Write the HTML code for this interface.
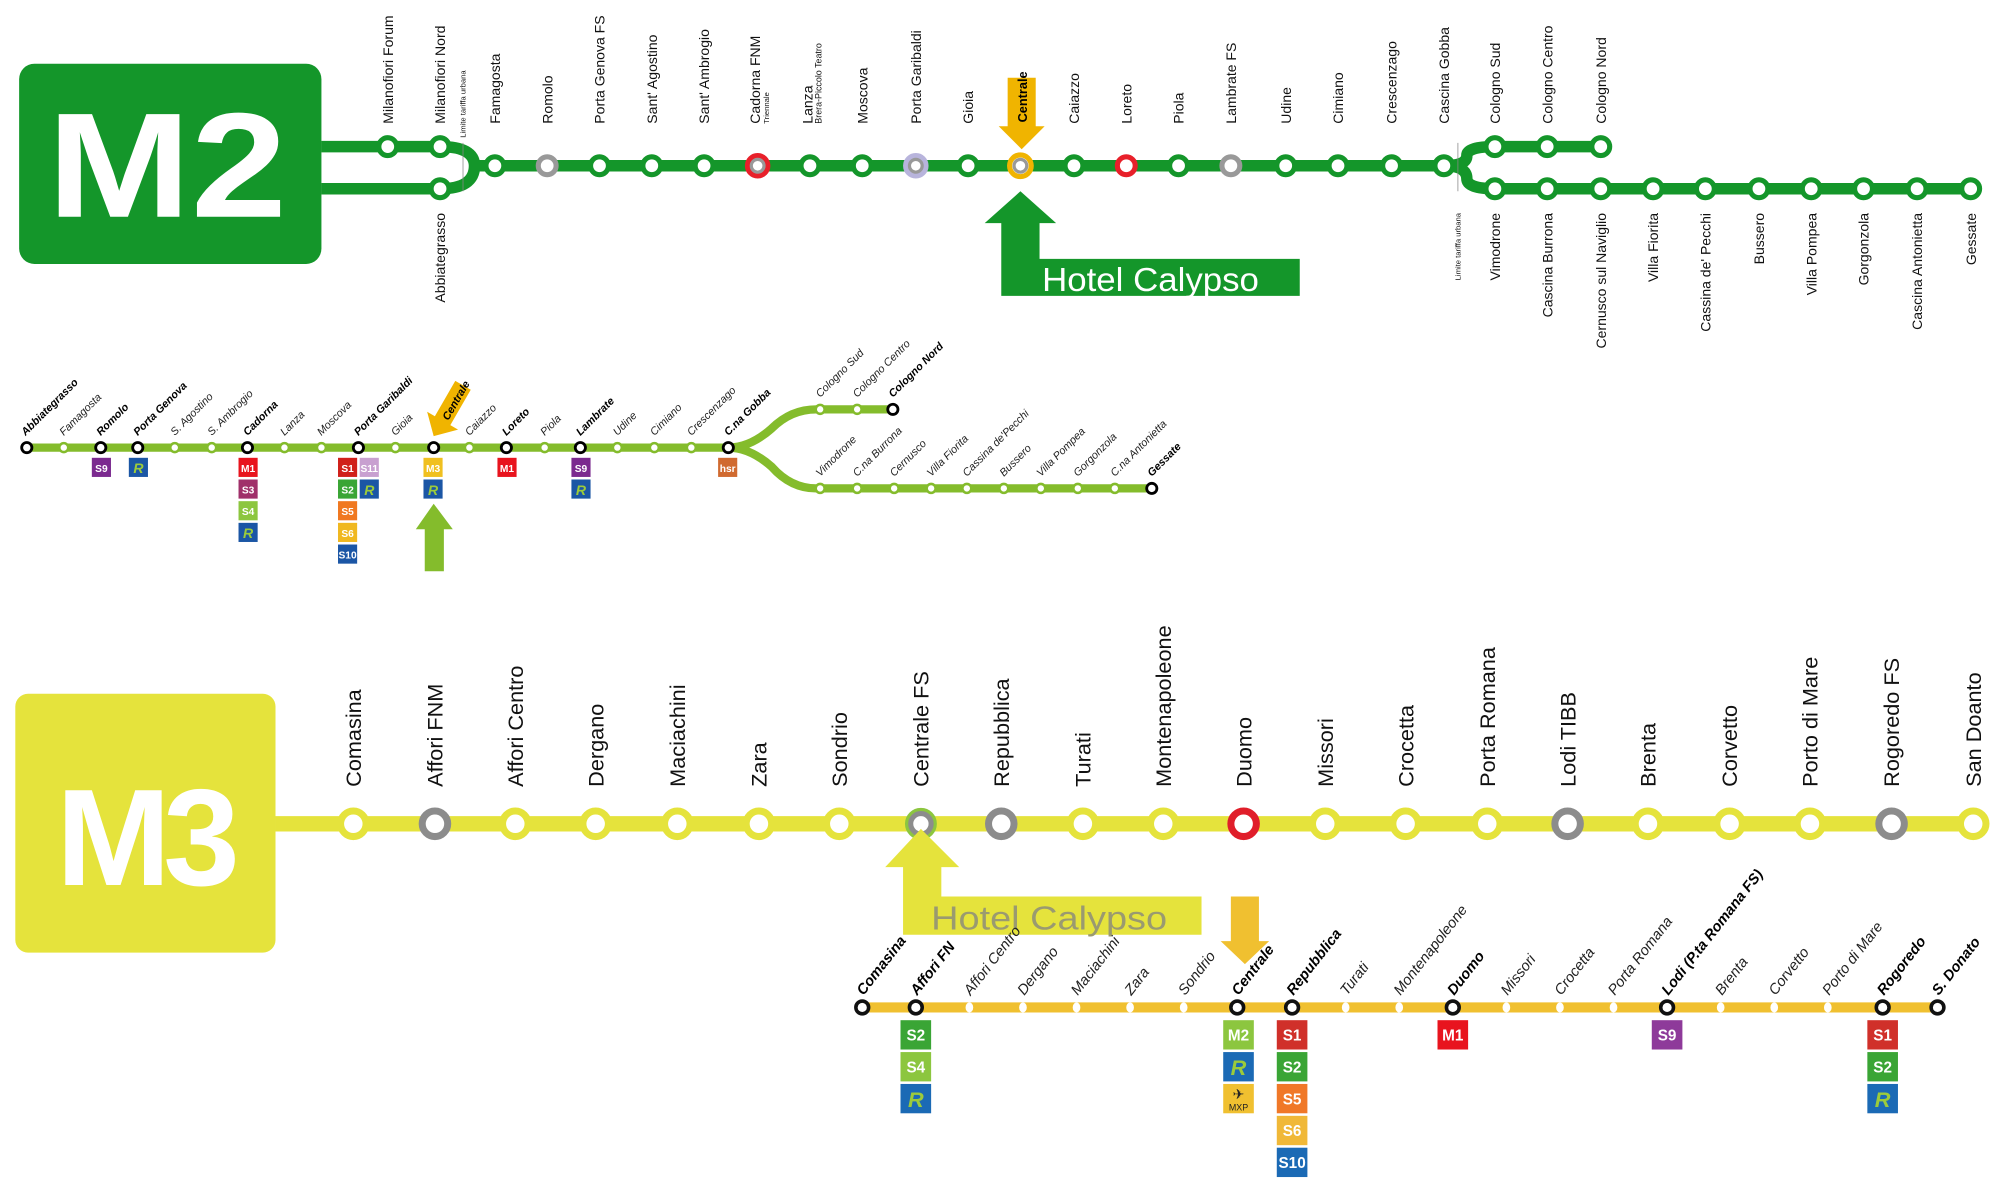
<!DOCTYPE html>
<html><head><meta charset="utf-8"><style>
html,body{margin:0;padding:0;background:#fff;width:2000px;height:1200px;overflow:hidden}
svg{display:block}
text{font-family:"Liberation Sans",Arial,sans-serif}
.t2{font-size:11px;fill:#111}
.s{font-size:8.5px;font-style:italic;fill:#222}
.sb{font-size:8.5px;font-style:italic;font-weight:bold;fill:#000}
.t3{font-size:17px;fill:#111}
.m{font-size:11.5px;font-style:italic;fill:#222}
.mb{font-size:11.5px;font-style:italic;font-weight:bold;fill:#000}
.bd{font-size:8px;font-weight:bold;fill:#fff;text-anchor:middle}
.bd2{font-size:12px;font-weight:bold;fill:#fff;text-anchor:middle}
</style></head><body>
<svg width="2000" height="1200" viewBox="0 0 1568 941" preserveAspectRatio="none" xmlns="http://www.w3.org/2000/svg">
<!-- ================= M2 top ================= -->
<rect x="15" y="50" width="237" height="157" rx="12" fill="#14962a"/>
<text x="37" y="170" font-size="117" font-weight="bold" fill="#fff" textLength="188" lengthAdjust="spacingAndGlyphs">M2</text>
<g stroke="#14962a" stroke-width="9" fill="none">
<line x1="252" y1="115" x2="345" y2="115"/>
<line x1="252" y1="148" x2="345" y2="148"/>
<path d="M345 115 Q372 115 372 130 M345 148 Q372 148 372 130"/>
<line x1="370" y1="130" x2="1132" y2="130"/>
<path d="M1132 130 Q1150 130 1150 122 Q1150 115 1172 115 L1255 115"/>
<path d="M1132 130 Q1150 130 1150 140 Q1150 148 1172 148 L1545 148"/>
</g>
<line x1="363" y1="112" x2="363" y2="150" stroke="#888" stroke-width="0.6"/>
<line x1="1143" y1="112" x2="1143" y2="150" stroke="#888" stroke-width="0.6"/>
<g fill="#fff" stroke="#14962a" stroke-width="4">
<circle cx="304" cy="115" r="7"/><circle cx="345" cy="115" r="7"/><circle cx="345" cy="148" r="7"/>
<circle cx="388" cy="130" r="7"/><circle cx="470" cy="130" r="7"/><circle cx="511" cy="130" r="7"/><circle cx="552" cy="130" r="7"/><circle cx="635" cy="130" r="7"/><circle cx="676" cy="130" r="7"/><circle cx="759" cy="130" r="7"/><circle cx="842" cy="130" r="7"/><circle cx="924" cy="130" r="7"/><circle cx="1008" cy="130" r="7"/><circle cx="1049" cy="130" r="7"/><circle cx="1091" cy="130" r="7"/><circle cx="1132" cy="130" r="7"/>
<circle cx="1172" cy="115" r="7"/><circle cx="1213" cy="115" r="7"/><circle cx="1255" cy="115" r="7"/>
<circle cx="1172" cy="148" r="7"/><circle cx="1213" cy="148" r="7"/><circle cx="1255" cy="148" r="7"/><circle cx="1296" cy="148" r="7"/><circle cx="1337" cy="148" r="7"/><circle cx="1379" cy="148" r="7"/><circle cx="1420" cy="148" r="7"/><circle cx="1461" cy="148" r="7"/><circle cx="1503" cy="148" r="7"/><circle cx="1545" cy="148" r="7"/>
</g>
<g fill="#fff" stroke-width="4">
<circle cx="429" cy="130" r="7" stroke="#999"/>
<circle cx="594" cy="130" r="8" stroke="#e8202a"/><circle cx="594" cy="130" r="5" stroke="#999" stroke-width="2.5"/>
<circle cx="718" cy="130" r="8" stroke="#b8b4dc"/><circle cx="718" cy="130" r="5" stroke="#999" stroke-width="2.5"/>
<circle cx="800" cy="130" r="8.5" stroke="#f0b400"/><circle cx="800" cy="130" r="5" stroke="#999" stroke-width="2.5"/>
<circle cx="883" cy="130" r="7" stroke="#e8202a"/>
<circle cx="965" cy="130" r="7" stroke="#999"/>
</g>
<g class="t2">
<text transform="translate(308,97) rotate(-90)">Milanofiori Forum</text>
<text transform="translate(349,97) rotate(-90)">Milanofiori Nord</text>
<text transform="translate(365,108) rotate(-90)" font-size="6">Limite tariffa urbana</text>
<text transform="translate(392,97) rotate(-90)">Famagosta</text>
<text transform="translate(433,97) rotate(-90)">Romolo</text>
<text transform="translate(474,97) rotate(-90)">Porta Genova FS</text>
<text transform="translate(515,97) rotate(-90)">Sant' Agostino</text>
<text transform="translate(556,97) rotate(-90)">Sant' Ambrogio</text>
<text transform="translate(596,97) rotate(-90)">Cadorna FNM</text>
<text transform="translate(603,97) rotate(-90)" font-size="6">Triennale</text>
<text transform="translate(637,97) rotate(-90)">Lanza</text>
<text transform="translate(644,97) rotate(-90)" font-size="7">Brera-Piccolo Teatro</text>
<text transform="translate(680,97) rotate(-90)">Moscova</text>
<text transform="translate(722,97) rotate(-90)">Porta Garibaldi</text>
<text transform="translate(763,97) rotate(-90)">Gioia</text>
<text transform="translate(846,97) rotate(-90)">Caiazzo</text>
<text transform="translate(887,97) rotate(-90)">Loreto</text>
<text transform="translate(928,97) rotate(-90)">Piola</text>
<text transform="translate(969,97) rotate(-90)">Lambrate FS</text>
<text transform="translate(1012,97) rotate(-90)">Udine</text>
<text transform="translate(1053,97) rotate(-90)">Cimiano</text>
<text transform="translate(1095,97) rotate(-90)">Crescenzago</text>
<text transform="translate(1136,97) rotate(-90)">Cascina Gobba</text>
<text transform="translate(1176,97) rotate(-90)">Cologno Sud</text>
<text transform="translate(1217,97) rotate(-90)">Cologno Centro</text>
<text transform="translate(1259,97) rotate(-90)">Cologno Nord</text>
<g text-anchor="end">
<text transform="translate(349,167) rotate(-90)">Abbiategrasso</text>
<text transform="translate(1145,167) rotate(-90)" font-size="6">Limite tariffa urbana</text>
<text transform="translate(1176,167) rotate(-90)">Vimodrone</text>
<text transform="translate(1217,167) rotate(-90)">Cascina Burrona</text>
<text transform="translate(1259,167) rotate(-90)">Cernusco sul Naviglio</text>
<text transform="translate(1300,167) rotate(-90)">Villa Fiorita</text>
<text transform="translate(1341,167) rotate(-90)">Cassina de' Pecchi</text>
<text transform="translate(1383,167) rotate(-90)">Bussero</text>
<text transform="translate(1424,167) rotate(-90)">Villa Pompea</text>
<text transform="translate(1465,167) rotate(-90)">Gorgonzola</text>
<text transform="translate(1507,167) rotate(-90)">Cascina Antonietta</text>
<text transform="translate(1549,167) rotate(-90)">Gessate</text>
</g>
</g>
<polygon points="790,61 812,61 812,99 819,99 801,117 783,99 790,99" fill="#f0b400"/>
<text transform="translate(805,96) rotate(-90)" font-size="10" font-weight="bold" fill="#000">Centrale</text>
<polygon points="800,150 828,175 815,175 815,203 1019,203 1019,232 785,232 785,175 772,175" fill="#14962a"/>
<text x="817" y="228" font-size="26" fill="#fff" style="font-weight:300" textLength="170" lengthAdjust="spacingAndGlyphs">Hotel Calypso</text>

<!-- ================= M2 small map ================= -->
<g stroke="#84bc2c" stroke-width="6.5" fill="none">
<line x1="21" y1="351" x2="571" y2="351"/>
<path d="M571 351 Q588 351 605 336 Q620 321 640 321 L700 321"/>
<path d="M571 351 Q588 351 605 366 Q620 383 640 383 L903 383"/>
</g>
<g fill="#fff" stroke="#84bc2c" stroke-width="2">
<circle cx="50" cy="351" r="3.5"/><circle cx="137" cy="351" r="3.5"/><circle cx="166" cy="351" r="3.5"/><circle cx="223" cy="351" r="3.5"/><circle cx="252" cy="351" r="3.5"/><circle cx="310" cy="351" r="3.5"/><circle cx="368" cy="351" r="3.5"/><circle cx="427" cy="351" r="3.5"/><circle cx="484" cy="351" r="3.5"/><circle cx="513" cy="351" r="3.5"/><circle cx="542" cy="351" r="3.5"/>
<circle cx="643" cy="321" r="3.5"/><circle cx="672" cy="321" r="3.5"/>
<circle cx="643" cy="383" r="3.5"/><circle cx="672" cy="383" r="3.5"/><circle cx="701" cy="383" r="3.5"/><circle cx="730" cy="383" r="3.5"/><circle cx="758" cy="383" r="3.5"/><circle cx="787" cy="383" r="3.5"/><circle cx="816" cy="383" r="3.5"/><circle cx="845" cy="383" r="3.5"/><circle cx="874" cy="383" r="3.5"/>
</g>
<g fill="#fff" stroke="#000" stroke-width="2.2">
<circle cx="21" cy="351" r="4"/><circle cx="79" cy="351" r="4"/><circle cx="108" cy="351" r="4"/><circle cx="194" cy="351" r="4"/><circle cx="281" cy="351" r="4"/><circle cx="340" cy="351" r="4"/><circle cx="397" cy="351" r="4"/><circle cx="455" cy="351" r="4"/><circle cx="571" cy="351" r="4"/><circle cx="700" cy="321" r="4"/><circle cx="903" cy="383" r="4"/>
</g>
<g>
<text class="sb" transform="translate(20,342) rotate(-45)">Abbiategrasso</text>
<text class="s" transform="translate(50,342) rotate(-45)">Famagosta</text>
<text class="sb" transform="translate(79,342) rotate(-45)">Romolo</text>
<text class="sb" transform="translate(108,342) rotate(-45)">Porta Genova</text>
<text class="s" transform="translate(137,342) rotate(-45)">S. Agostino</text>
<text class="s" transform="translate(166,342) rotate(-45)">S. Ambrogio</text>
<text class="sb" transform="translate(194,342) rotate(-45)">Cadorna</text>
<text class="s" transform="translate(223,342) rotate(-45)">Lanza</text>
<text class="s" transform="translate(252,342) rotate(-45)">Moscova</text>
<text class="sb" transform="translate(281,342) rotate(-45)">Porta Garibaldi</text>
<text class="s" transform="translate(310,342) rotate(-45)">Gioia</text>
<text class="s" transform="translate(368,342) rotate(-45)">Caiazzo</text>
<text class="sb" transform="translate(397,342) rotate(-45)">Loreto</text>
<text class="s" transform="translate(427,342) rotate(-45)">Piola</text>
<text class="sb" transform="translate(455,342) rotate(-45)">Lambrate</text>
<text class="s" transform="translate(484,342) rotate(-45)">Udine</text>
<text class="s" transform="translate(513,342) rotate(-45)">Cimiano</text>
<text class="s" transform="translate(542,342) rotate(-45)">Crescenzago</text>
<text class="sb" transform="translate(571,342) rotate(-45)">C.na Gobba</text>
<text class="s" transform="translate(643,312) rotate(-45)">Cologno Sud</text>
<text class="s" transform="translate(672,312) rotate(-45)">Cologno Centro</text>
<text class="sb" transform="translate(700,312) rotate(-45)">Cologno Nord</text>
<text class="s" transform="translate(643,374) rotate(-45)">Vimodrone</text>
<text class="s" transform="translate(672,374) rotate(-45)">C.na Burrona</text>
<text class="s" transform="translate(701,374) rotate(-45)">Cernusco</text>
<text class="s" transform="translate(730,374) rotate(-45)">Villa Fiorita</text>
<text class="s" transform="translate(758,374) rotate(-45)">Cassina de'Pecchi</text>
<text class="s" transform="translate(787,374) rotate(-45)">Bussero</text>
<text class="s" transform="translate(816,374) rotate(-45)">Villa Pompea</text>
<text class="s" transform="translate(845,374) rotate(-45)">Gorgonzola</text>
<text class="s" transform="translate(874,374) rotate(-45)">C.na Antonietta</text>
<text class="sb" transform="translate(903,374) rotate(-45)">Gessate</text>
</g>
<g transform="rotate(30,340,342)">
<polygon points="333,296 347,296 347,328 354,328 340,342 326,328 333,328" fill="#f0b400"/>
<text transform="translate(344,326) rotate(-90)" font-size="8.5" font-weight="bold" font-style="italic" fill="#000">Centrale</text>
</g>
<g>
<rect x="72" y="359" width="15" height="15" fill="#7b2a8f"/><text class="bd" x="79.5" y="370">S9</text>
<rect x="101" y="359" width="15" height="15" fill="#1b56a5"/><text x="108.5" y="371" font-size="11" font-weight="bold" font-style="italic" fill="#9ccb3b" text-anchor="middle">R</text>
<rect x="187" y="359" width="15" height="15" fill="#e8141e"/><text class="bd" x="194.5" y="370">M1</text>
<rect x="187" y="376" width="15" height="15" fill="#a0306a"/><text class="bd" x="194.5" y="387">S3</text>
<rect x="187" y="393" width="15" height="15" fill="#8cc63f"/><text class="bd" x="194.5" y="404">S4</text>
<rect x="187" y="410" width="15" height="15" fill="#1b56a5"/><text x="194.5" y="422" font-size="11" font-weight="bold" font-style="italic" fill="#9ccb3b" text-anchor="middle">R</text>
<rect x="265" y="359" width="15" height="15" fill="#d0201a"/><text class="bd" x="272.5" y="370">S1</text>
<rect x="265" y="376" width="15" height="15" fill="#3aa535"/><text class="bd" x="272.5" y="387">S2</text>
<rect x="265" y="393" width="15" height="15" fill="#f07820"/><text class="bd" x="272.5" y="404">S5</text>
<rect x="265" y="410" width="15" height="15" fill="#f0b820"/><text class="bd" x="272.5" y="421">S6</text>
<rect x="265" y="427" width="15" height="15" fill="#1b56a5"/><text class="bd" x="272.5" y="438">S10</text>
<rect x="282" y="359" width="15" height="15" fill="#c8a0d0"/><text class="bd" x="289.5" y="370">S11</text>
<rect x="282" y="376" width="15" height="15" fill="#1b56a5"/><text x="289.5" y="388" font-size="11" font-weight="bold" font-style="italic" fill="#9ccb3b" text-anchor="middle">R</text>
<rect x="332" y="359" width="15" height="15" fill="#f0c020"/><text class="bd" x="339.5" y="370">M3</text>
<rect x="332" y="376" width="15" height="15" fill="#1b56a5"/><text x="339.5" y="388" font-size="11" font-weight="bold" font-style="italic" fill="#9ccb3b" text-anchor="middle">R</text>
<rect x="390" y="359" width="15" height="15" fill="#e8141e"/><text class="bd" x="397.5" y="370">M1</text>
<rect x="448" y="359" width="15" height="15" fill="#7b2a8f"/><text class="bd" x="455.5" y="370">S9</text>
<rect x="448" y="376" width="15" height="15" fill="#1b56a5"/><text x="455.5" y="388" font-size="11" font-weight="bold" font-style="italic" fill="#9ccb3b" text-anchor="middle">R</text>
<rect x="563" y="359" width="15" height="15" fill="#d06a30"/><text class="bd" x="570.5" y="370">hsr</text>
</g>
<polygon points="340,395 355,415 348,415 348,448 333,448 333,415 326,415" fill="#84bc2c"/>

<!-- ================= M3 ================= -->
<rect x="12" y="544" width="204" height="203" rx="10" fill="#e5e33c"/>
<text x="113" y="694" font-size="108" font-weight="bold" fill="#fff" text-anchor="middle" style="letter-spacing:-6px">M3</text>
<line x1="216" y1="646" x2="1548" y2="646" stroke="#e5e33c" stroke-width="12"/>
<g fill="#fff" stroke="#e5e33c" stroke-width="5.5">
<circle cx="277" cy="646" r="10"/><circle cx="404" cy="646" r="10"/><circle cx="467" cy="646" r="10"/><circle cx="531" cy="646" r="10"/><circle cx="595" cy="646" r="10"/><circle cx="658" cy="646" r="10"/><circle cx="849" cy="646" r="10"/><circle cx="912" cy="646" r="10"/><circle cx="1039" cy="646" r="10"/><circle cx="1102" cy="646" r="10"/><circle cx="1166" cy="646" r="10"/><circle cx="1292" cy="646" r="10"/><circle cx="1356" cy="646" r="10"/><circle cx="1419" cy="646" r="10"/><circle cx="1547" cy="646" r="10"/>
</g>
<g fill="#fff" stroke-width="5.5">
<circle cx="341" cy="646" r="10" stroke="#8c8c8c"/>
<circle cx="722" cy="646" r="11" stroke="#8cc63f" stroke-width="3"/><circle cx="722" cy="646" r="8" stroke="#8c8c8c" stroke-width="4"/>
<circle cx="785" cy="646" r="10" stroke="#8c8c8c"/>
<circle cx="975" cy="646" r="10" stroke="#e01e2a"/>
<circle cx="1229" cy="646" r="10" stroke="#8c8c8c"/>
<circle cx="1483" cy="646" r="10" stroke="#8c8c8c"/>
</g>
<g class="t3">
<text transform="translate(283,617) rotate(-90)">Comasina</text>
<text transform="translate(347,617) rotate(-90)">Affori FNM</text>
<text transform="translate(410,617) rotate(-90)">Affori Centro</text>
<text transform="translate(473,617) rotate(-90)">Dergano</text>
<text transform="translate(537,617) rotate(-90)">Maciachini</text>
<text transform="translate(601,617) rotate(-90)">Zara</text>
<text transform="translate(664,617) rotate(-90)">Sondrio</text>
<text transform="translate(728,617) rotate(-90)">Centrale FS</text>
<text transform="translate(791,617) rotate(-90)">Repubblica</text>
<text transform="translate(855,617) rotate(-90)">Turati</text>
<text transform="translate(918,617) rotate(-90)">Montenapoleone</text>
<text transform="translate(981,617) rotate(-90)">Duomo</text>
<text transform="translate(1045,617) rotate(-90)">Missori</text>
<text transform="translate(1108,617) rotate(-90)">Crocetta</text>
<text transform="translate(1172,617) rotate(-90)">Porta Romana</text>
<text transform="translate(1235,617) rotate(-90)">Lodi TIBB</text>
<text transform="translate(1298,617) rotate(-90)">Brenta</text>
<text transform="translate(1362,617) rotate(-90)">Corvetto</text>
<text transform="translate(1425,617) rotate(-90)">Porto di Mare</text>
<text transform="translate(1489,617) rotate(-90)">Rogoredo FS</text>
<text transform="translate(1553,617) rotate(-90)">San Doanto</text>
</g>

<line x1="676" y1="790" x2="1519" y2="790" stroke="#f0c030" stroke-width="8"/>
<g fill="#fff">
<ellipse cx="760" cy="790" rx="3" ry="4"/><ellipse cx="802" cy="790" rx="3" ry="4"/><ellipse cx="844" cy="790" rx="3" ry="4"/><ellipse cx="886" cy="790" rx="3" ry="4"/><ellipse cx="928" cy="790" rx="3" ry="4"/><ellipse cx="1055" cy="790" rx="3" ry="4"/><ellipse cx="1097" cy="790" rx="3" ry="4"/><ellipse cx="1181" cy="790" rx="3" ry="4"/><ellipse cx="1223" cy="790" rx="3" ry="4"/><ellipse cx="1265" cy="790" rx="3" ry="4"/><ellipse cx="1349" cy="790" rx="3" ry="4"/><ellipse cx="1391" cy="790" rx="3" ry="4"/><ellipse cx="1433" cy="790" rx="3" ry="4"/>
</g>
<g fill="#fff" stroke="#111" stroke-width="2.8">
<circle cx="676" cy="790" r="5"/><circle cx="718" cy="790" r="5"/><circle cx="970" cy="790" r="5"/><circle cx="1013" cy="790" r="5"/><circle cx="1139" cy="790" r="5"/><circle cx="1307" cy="790" r="5"/><circle cx="1476" cy="790" r="5"/><circle cx="1519" cy="790" r="5"/>
</g>
<polygon points="722,650 752,680 738,680 738,703 942,703 942,733 708,733 708,680 694,680" fill="#e5e33c"/>
<text x="730" y="729" font-size="26" fill="#9a9a70" style="font-weight:300" textLength="185" lengthAdjust="spacingAndGlyphs">Hotel Calypso</text>
<polygon points="965,703 987,703 987,738 995,738 976,756 957,738 965,738" fill="#f0c030"/>
<g>
<text class="mb" transform="translate(677,781) rotate(-52)">Comasina</text>
<text class="mb" transform="translate(719,781) rotate(-52)">Affori FN</text>
<text class="m" transform="translate(761,781) rotate(-52)">Affori Centro</text>
<text class="m" transform="translate(803,781) rotate(-52)">Dergano</text>
<text class="m" transform="translate(845,781) rotate(-52)">Maciachini</text>
<text class="m" transform="translate(887,781) rotate(-52)">Zara</text>
<text class="m" transform="translate(929,781) rotate(-52)">Sondrio</text>
<text class="mb" transform="translate(971,781) rotate(-52)">Centrale</text>
<text class="mb" transform="translate(1014,781) rotate(-52)">Repubblica</text>
<text class="m" transform="translate(1056,781) rotate(-52)">Turati</text>
<text class="m" transform="translate(1098,781) rotate(-52)">Montenapoleone</text>
<text class="mb" transform="translate(1140,781) rotate(-52)">Duomo</text>
<text class="m" transform="translate(1182,781) rotate(-52)">Missori</text>
<text class="m" transform="translate(1224,781) rotate(-52)">Crocetta</text>
<text class="m" transform="translate(1266,781) rotate(-52)">Porta Romana</text>
<text class="mb" transform="translate(1308,781) rotate(-52)">Lodi (P.ta Romana FS)</text>
<text class="m" transform="translate(1350,781) rotate(-52)">Brenta</text>
<text class="m" transform="translate(1392,781) rotate(-52)">Corvetto</text>
<text class="m" transform="translate(1434,781) rotate(-52)">Porto di Mare</text>
<text class="mb" transform="translate(1477,781) rotate(-52)">Rogoredo</text>
<text class="mb" transform="translate(1520,781) rotate(-52)">S. Donato</text>
</g>
<g>
<rect x="706" y="800" width="24" height="23" fill="#3aa535"/><text class="bd2" x="718" y="816">S2</text>
<rect x="706" y="825" width="24" height="23" fill="#8cc63f"/><text class="bd2" x="718" y="841">S4</text>
<rect x="706" y="850" width="24" height="23" fill="#1b6ab5"/><text x="718" y="868" font-size="17" font-weight="bold" font-style="italic" fill="#9ccb3b" text-anchor="middle">R</text>
<rect x="959" y="800" width="24" height="23" fill="#8cc63f"/><text class="bd2" x="971" y="816">M2</text>
<rect x="959" y="825" width="24" height="23" fill="#1b6ab5"/><text x="971" y="843" font-size="17" font-weight="bold" font-style="italic" fill="#9ccb3b" text-anchor="middle">R</text>
<rect x="959" y="850" width="24" height="23" fill="#f0c030"/><text x="971" y="862" font-size="11" fill="#222" text-anchor="middle">✈</text><text x="971" y="871" font-size="7" fill="#222" text-anchor="middle">MXP</text>
<rect x="1001" y="800" width="24" height="23" fill="#d0302a"/><text class="bd2" x="1013" y="816">S1</text>
<rect x="1001" y="825" width="24" height="23" fill="#3aa535"/><text class="bd2" x="1013" y="841">S2</text>
<rect x="1001" y="850" width="24" height="23" fill="#f07828"/><text class="bd2" x="1013" y="866">S5</text>
<rect x="1001" y="875" width="24" height="23" fill="#f0b838"/><text class="bd2" x="1013" y="891">S6</text>
<rect x="1001" y="900" width="24" height="23" fill="#1b6ab5"/><text class="bd2" x="1013" y="916">S10</text>
<rect x="1127" y="800" width="24" height="23" fill="#e8141e"/><text class="bd2" x="1139" y="816">M1</text>
<rect x="1295" y="800" width="24" height="23" fill="#8e3a9a"/><text class="bd2" x="1307" y="816">S9</text>
<rect x="1464" y="800" width="24" height="23" fill="#d0302a"/><text class="bd2" x="1476" y="816">S1</text>
<rect x="1464" y="825" width="24" height="23" fill="#3aa535"/><text class="bd2" x="1476" y="841">S2</text>
<rect x="1464" y="850" width="24" height="23" fill="#1b6ab5"/><text x="1476" y="868" font-size="17" font-weight="bold" font-style="italic" fill="#9ccb3b" text-anchor="middle">R</text>
</g>
</svg>
</body></html>
